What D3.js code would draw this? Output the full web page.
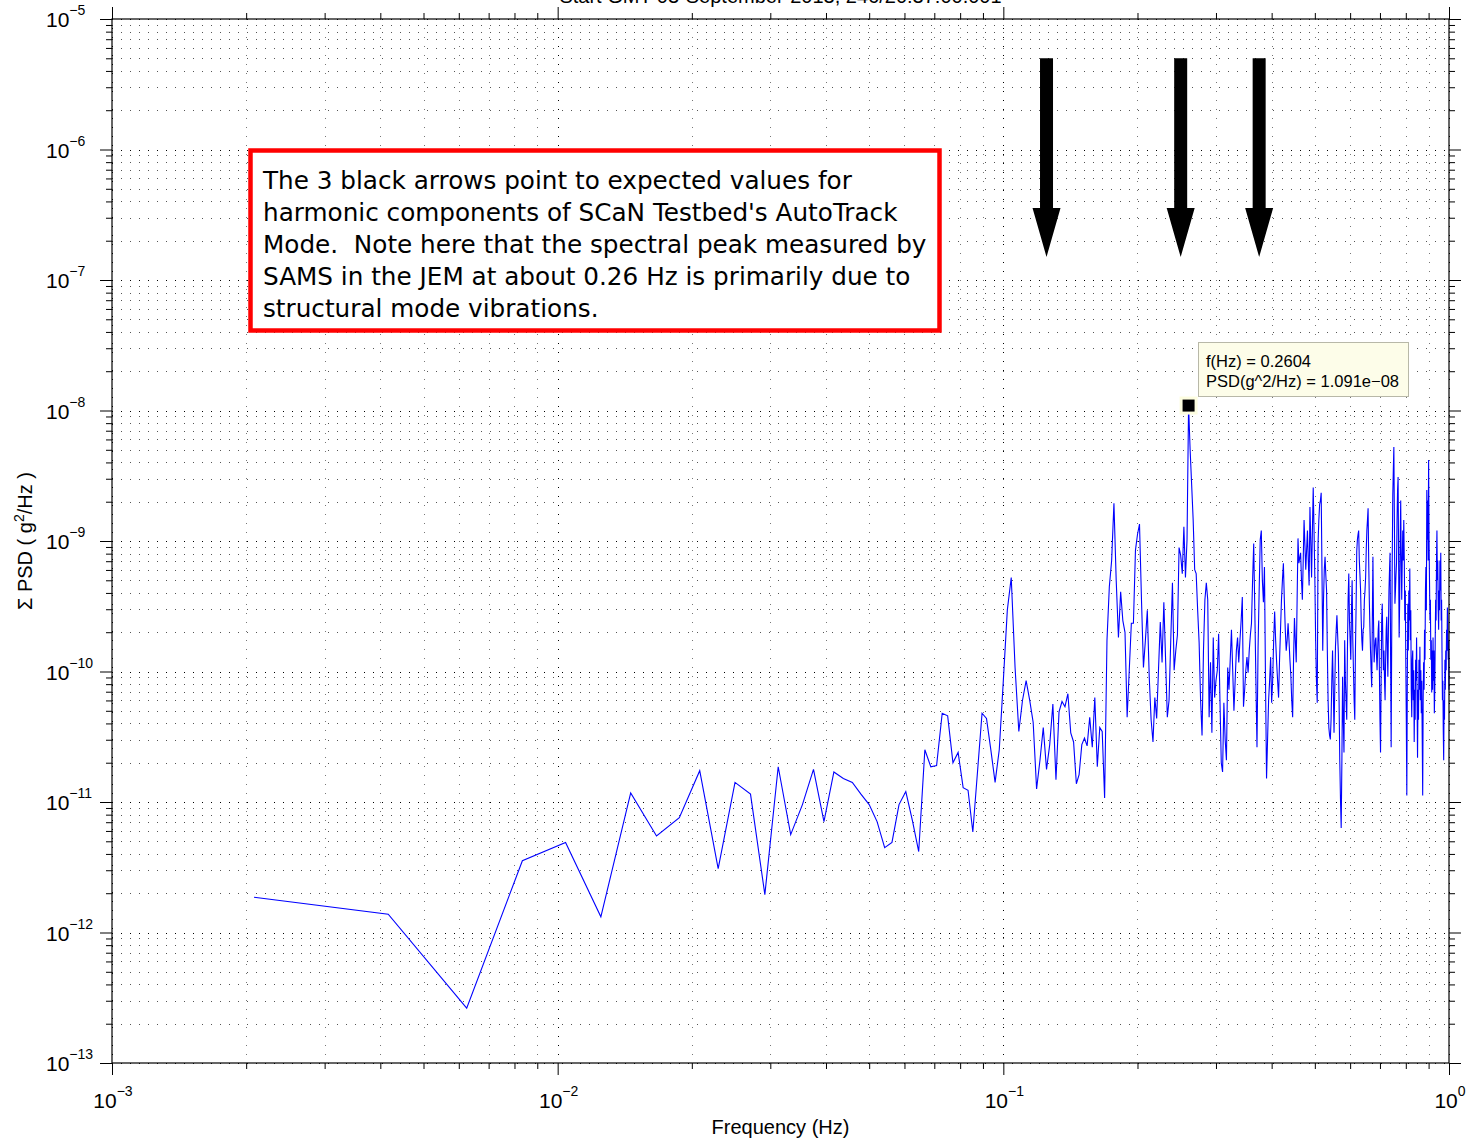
<!DOCTYPE html>
<html>
<head>
<meta charset="utf-8">
<script src="https://d3js.org/d3.v7.min.js"></script>
<style>
body { margin: 0; background: #fff; }
svg { display: block; }
</style>
</head>
<body>
<svg id="chart" width="1469" height="1142"></svg>
<script>
// frequency bin spacing of the PSD (Hz), first bin is at df
var df = 1 / 480;

// log10 of PSD (g^2/Hz) for bins 1..480
var psdLog = [
  -11.73,-11.86,-12.58,-11.45,-11.31,-11.88,-10.93,-11.26,-11.12,-10.76,
  -11.51,-10.85,-10.94,-11.71,-10.73,-11.25,-11.02,-10.75,-11.15,-10.77,
  -10.82,-10.85,-10.94,-11.02,-11.15,-11.35,-11.31,-11.02,-10.92,-11.14,
  -11.38,-10.60,-10.73,-10.72,-10.32,-10.34,-10.70,-10.62,-10.89,-10.91,
  -11.23,-10.77,-10.32,-10.36,-10.60,-10.85,-10.60,-10.07,-9.53,-9.28,
  -9.97,-10.46,-10.22,-10.07,-10.22,-10.39,-10.90,-10.68,-10.43,-10.75,
  -10.56,-10.25,-10.83,-10.31,-10.23,-10.27,-10.17,-10.47,-10.54,-10.86,
  -10.79,-10.56,-10.51,-10.57,-10.35,-10.58,-10.20,-10.73,-10.43,-10.46,
  -10.97,-9.76,-9.35,-9.15,-8.71,-9.30,-9.74,-9.39,-9.61,-9.70,
  -10.35,-9.99,-9.63,-9.63,-9.07,-8.95,-8.87,-9.45,-9.97,-9.76,
  -9.53,-10.04,-10.37,-10.54,-10.20,-10.36,-9.99,-9.62,-9.93,-9.47,
  -9.91,-10.35,-10.22,-9.76,-9.32,-9.99,-9.84,-9.72,-9.05,-9.11,
  -9.25,-8.89,-9.28,-8.99,-7.96,-8.30,-8.57,-8.84,-9.22,-9.25,
  -9.53,-9.78,-10.22,-10.49,-9.84,-9.45,-9.32,-9.45,-10.35,-9.93,
  -10.47,-9.74,-10.20,-10.07,-9.99,-9.71,-10.22,-10.70,-10.77,-10.24,
  -10.52,-10.68,-9.97,-10.14,-9.91,-9.68,-9.99,-10.30,-10.07,-9.84,
  -9.74,-9.93,-9.76,-9.61,-9.43,-10.27,-10.14,-9.99,-9.89,-10.01,
  -9.84,-9.72,-9.63,-9.30,-9.02,-9.53,-10.07,-10.58,-9.81,-9.38,
  -8.99,-8.92,-9.30,-9.47,-9.20,-10.07,-10.82,-10.52,-10.22,-10.07,
  -9.89,-10.24,-10.07,-9.76,-9.54,-9.76,-9.93,-10.07,-10.20,-9.91,
  -9.68,-9.45,-9.30,-9.17,-9.45,-9.68,-9.84,-9.76,-9.63,-9.76,
  -9.91,-10.03,-10.22,-10.35,-9.91,-9.59,-9.76,-9.93,-9.45,-8.98,
  -9.17,-9.13,-9.09,-9.30,-9.45,-9.15,-8.84,-9.03,-9.22,-9.07,
  -8.92,-9.15,-9.34,-8.74,-8.99,-9.28,-8.92,-8.59,-8.92,-9.28,
  -9.76,-10.07,-10.24,-9.02,-8.84,-8.72,-8.69,-8.63,-9.22,-9.84,
  -9.45,-9.22,-9.12,-9.26,-9.38,-9.84,-10.22,-10.43,-10.49,-10.52,
  -10.37,-10.07,-9.84,-10.14,-10.47,-10.14,-9.81,-9.68,-9.57,-9.72,
  -9.86,-10.22,-10.68,-10.98,-11.20,-10.68,-10.04,-10.37,-10.62,-9.76,
  -10.07,-10.22,-10.37,-9.84,-9.45,-9.25,-9.61,-9.76,-9.91,-9.53,
  -9.30,-9.76,-9.99,-10.22,-10.37,-9.84,-9.51,-9.08,-8.99,-8.95,
  -8.92,-9.15,-9.26,-9.38,-9.61,-9.76,-9.84,-9.68,-9.66,-9.45,
  -9.38,-9.28,-9.07,-8.92,-8.84,-8.75,-9.15,-9.45,-9.66,-9.84,
  -9.99,-10.12,-9.61,-9.12,-9.61,-9.93,-9.84,-9.76,-9.74,-9.87,
  -9.99,-9.84,-9.68,-9.61,-9.99,-10.37,-10.62,-10.07,-9.61,-9.48,
  -9.76,-9.99,-9.84,-10.07,-10.22,-9.91,-9.68,-9.58,-9.84,-10.04,
  -9.68,-9.38,-9.22,-9.09,-9.91,-10.58,-9.76,-9.15,-8.65,-8.46,
  -8.28,-8.84,-9.48,-9.38,-9.26,-9.17,-8.84,-8.61,-8.51,-9.15,
  -9.74,-9.45,-8.99,-8.69,-9.15,-9.45,-9.15,-8.92,-9.15,-8.84,
  -9.15,-9.61,-9.38,-9.93,-10.37,-10.95,-10.07,-9.48,-9.84,-9.38,
  -9.61,-9.21,-9.76,-9.53,-10.14,-10.35,-9.91,-9.84,-10.22,-9.99,
  -10.54,-10.14,-10.37,-9.91,-10.07,-9.74,-10.22,-10.66,-10.14,-10.37,
  -9.91,-10.14,-9.81,-10.22,-9.99,-10.32,-10.07,-10.52,-10.95,-10.22,
  -9.93,-10.14,-9.68,-9.91,-9.38,-9.20,-9.53,-8.61,-8.99,-8.69,
  -9.15,-8.38,-8.99,-9.30,-9.61,-9.45,-9.91,-9.76,-10.16,-9.84,
  -10.14,-9.74,-10.07,-9.84,-10.32,-10.14,-9.76,-9.45,-9.61,-9.15,
  -8.92,-9.30,-9.15,-9.53,-9.68,-9.38,-9.53,-9.15,-9.38,-9.09,
  -9.61,-9.45,-9.86,-10.22,-10.07,-10.45,-10.68,-10.22,-10.37,-9.91,
  -10.14,-9.84,-9.99,-9.68,-9.84,-9.51,-9.61,-9.91,-9.76,-10.14
];

var xDecades = [-3, -2, -1, 0];
var yDecades = [-13, -12, -11, -10, -9, -8, -7, -6, -5];

var titleText = "Start GMT 03-September-2013, 246/20:37:00.001";
var xLabel = "Frequency (Hz)";
var noteLines = [
  "The 3 black arrows point to expected values for",
  "harmonic components of SCaN Testbed's AutoTrack",
  "Mode.  Note here that the spectral peak measured by",
  "SAMS in the JEM at about 0.26 Hz is primarily due to",
  "structural mode vibrations."
];

// expected AutoTrack harmonics (Hz)
var arrowFreqs = [0.125, 0.25, 0.375];

// data tip
var tipFreq = 0.2604;
var tipPsd = 1.091e-8;
var tipLines = ["f(Hz) = 0.2604", "PSD(g^2/Hz) = 1.091e\u221208"];

var data = psdLog.map(function (v, i) {
  return { f: (i + 1) * df, p: Math.pow(10, v) };
});

var svg = d3.select("#chart");
var plotL = 112, plotR = 1449, plotT = 19, plotB = 1063;

var x = d3.scaleLog().domain([1e-3, 1]).range([plotL, plotR]);
var y = d3.scaleLog().domain([1e-13, 1e-5]).range([plotB, plotT]);

var xMajor = xDecades.map(function (d) { return Math.pow(10, d); });
var yMajor = yDecades.map(function (d) { return Math.pow(10, d); });
var xMinor = [], yMinor = [];
xDecades.slice(0, -1).forEach(function (d) {
  for (var m = 2; m <= 9; m++) xMinor.push(m * Math.pow(10, d));
});
yDecades.slice(0, -1).forEach(function (d) {
  for (var m = 2; m <= 9; m++) yMinor.push(m * Math.pow(10, d));
});

//grid
var grid = svg.append("g");
function vGrid(ticks, color) {
  grid.append("g").selectAll("line").data(ticks).enter().append("line")
    .attr("x1", function (d) { return Math.round(x(d)) + 0.5; })
    .attr("x2", function (d) { return Math.round(x(d)) + 0.5; })
    .attr("y1", plotT).attr("y2", plotB)
    .attr("stroke", color).attr("stroke-dasharray", "1,8");
}
function hGrid(ticks, color) {
  grid.append("g").selectAll("line").data(ticks).enter().append("line")
    .attr("y1", function (d) { return Math.round(y(d)) + 0.5; })
    .attr("y2", function (d) { return Math.round(y(d)) + 0.5; })
    .attr("x1", plotL).attr("x2", plotR)
    .attr("stroke", color).attr("stroke-dasharray", "1,8");
}
vGrid(xMinor, "#777");
hGrid(yMinor, "#555");
vGrid(xMajor, "#000");
hGrid(yMajor, "#000");

//data line
var line = d3.line()
  .x(function (d) { return x(d.f); })
  .y(function (d) { return y(d.p); });

svg.append("path")
  .datum(data)
  .attr("d", line)
  .attr("fill", "none")
  .attr("stroke", "#0000ff")
  .attr("stroke-width", 1.1);

//axes (ticks point outward)
function drawAxis(axisFn, ticks, size, transform) {
  svg.append("g")
    .attr("transform", transform)
    .call(axisFn.tickValues(ticks).tickSize(size).tickFormat(""))
    .call(function (g) {
      g.select(".domain").remove();
      g.selectAll("line").attr("stroke", "#000");
    });
}
drawAxis(d3.axisLeft(y), yMajor, 12, "translate(" + plotL + ",0)");
drawAxis(d3.axisLeft(y), yMinor, 6, "translate(" + plotL + ",0)");
drawAxis(d3.axisRight(y), yMajor, 12, "translate(" + plotR + ",0)");
drawAxis(d3.axisRight(y), yMinor, 6, "translate(" + plotR + ",0)");
drawAxis(d3.axisBottom(x), xMajor, 12, "translate(0," + plotB + ")");
drawAxis(d3.axisBottom(x), xMinor, 6, "translate(0," + plotB + ")");
drawAxis(d3.axisTop(x), xMajor, 12, "translate(0," + plotT + ")");
drawAxis(d3.axisTop(x), xMinor, 6, "translate(0," + plotT + ")");

svg.append("rect")
  .attr("x", plotL).attr("y", plotT)
  .attr("width", plotR - plotL).attr("height", plotB - plotT)
  .attr("fill", "none").attr("stroke", "#000").attr("stroke-width", 1.2);

//tick labels 10^n
var font = "'Liberation Sans', Arial, Helvetica, sans-serif";
function powLabel(sel, d) {
  sel.append("tspan").text("10");
  sel.append("tspan").attr("dy", -12).attr("font-size", 14)
    .text(d < 0 ? "\u2212" + (-d) : String(d));
}
yDecades.forEach(function (d) {
  var t = svg.append("text")
    .attr("x", 46).attr("y", y(Math.pow(10, d)) + 8)
    .attr("text-anchor", "start")
    .attr("font-family", font).attr("font-size", 21);
  powLabel(t, d);
});
xDecades.forEach(function (d) {
  var t = svg.append("text")
    .attr("x", x(Math.pow(10, d)) + 1).attr("y", 1108)
    .attr("text-anchor", "middle")
    .attr("font-family", font).attr("font-size", 21);
  powLabel(t, d);
});

//titles
svg.append("text")
  .attr("x", (plotL + plotR) / 2).attr("y", 3)
  .attr("text-anchor", "middle")
  .attr("font-family", font).attr("font-size", 20)
  .text(titleText);

svg.append("text")
  .attr("x", (plotL + plotR) / 2).attr("y", 1134)
  .attr("text-anchor", "middle")
  .attr("font-family", font).attr("font-size", 20)
  .text(xLabel);

var yl = svg.append("text")
  .attr("transform", "translate(32," + ((plotT + plotB) / 2) + ") rotate(-90)")
  .attr("text-anchor", "middle")
  .attr("font-family", font).attr("font-size", 20);
yl.append("tspan").text("\u03a3 PSD ( g");
yl.append("tspan").attr("dy", -8).attr("font-size", 14).text("2");
yl.append("tspan").attr("dy", 8).text("/Hz )");

//annotation box
svg.append("rect")
  .attr("x", 250.5).attr("y", 150.5)
  .attr("width", 689).attr("height", 180)
  .attr("fill", "#fff").attr("stroke", "#ff0000").attr("stroke-width", 4.5);

svg.append("g").selectAll("text").data(noteLines).enter().append("text")
  .attr("x", 263)
  .attr("y", function (d, i) { return 189 + i * 32; })
  .attr("font-family", "'DejaVu Sans', sans-serif")
  .attr("font-size", 24.7)
  .style("white-space", "pre")
  .text(function (d) { return d; });

//arrows
var arrowTop = 5.0e-6, arrowNeck = 3.56e-7, arrowTip = 1.5e-7;
svg.append("g").selectAll("path").data(arrowFreqs).enter().append("path")
  .attr("d", function (f) {
    var cx = x(f), y0 = y(arrowTop), y1 = y(arrowNeck), y2 = y(arrowTip);
    return "M" + (cx - 6.5) + "," + y0 + "H" + (cx + 6.5) + "V" + y1 +
      "H" + (cx + 14) + "L" + cx + "," + y2 + "L" + (cx - 14) + "," + y1 +
      "H" + (cx - 6.5) + "Z";
  })
  .attr("fill", "#000");

//data tip
var mx = x(tipFreq), my = y(tipPsd);
var tip = svg.append("g");
tip.append("rect")
  .attr("x", Math.round(mx) + 9.5).attr("y", Math.round(my) - 63.5)
  .attr("width", 210).attr("height", 54)
  .attr("fill", "#fdfde9").attr("stroke", "#b8b8a8").attr("stroke-width", 1);
tip.selectAll("text").data(tipLines).enter().append("text")
  .attr("x", Math.round(mx) + 17)
  .attr("y", function (d, i) { return Math.round(my) - 39 + i * 20; })
  .attr("font-family", font).attr("font-size", 16.5)
  .text(function (d) { return d; });
tip.append("rect")
  .attr("x", mx - 7.5).attr("y", my - 7.5)
  .attr("width", 15).attr("height", 15)
  .attr("fill", "#000").attr("stroke", "#fdfde0").attr("stroke-width", 3);
</script>
</body>
</html>
